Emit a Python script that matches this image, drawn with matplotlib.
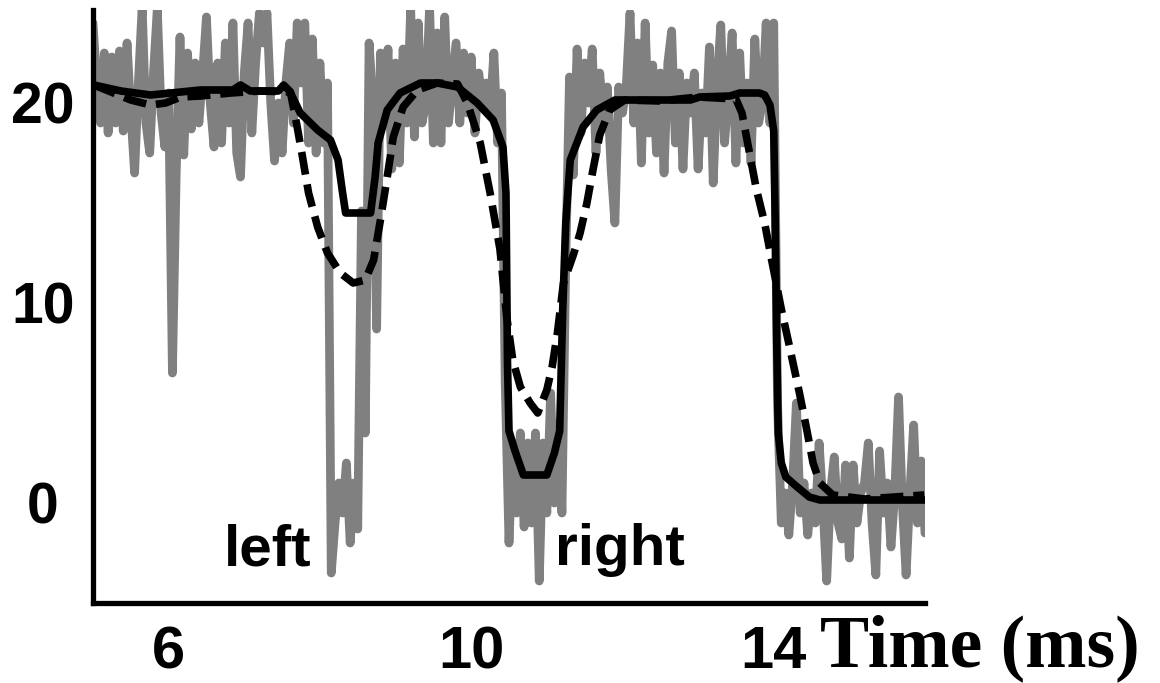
"""Recorded trace with two fitted estimates over time (left / right events)."""

import matplotlib

matplotlib.use("Agg")
import matplotlib.pyplot as plt
import numpy as np

# raw recording, sampled every 0.05 ms starting at 5.0 ms
RAW_T0, RAW_DT = 5.0, 0.05
raw_trace = [
    24.0, 21.0, 19.0, 22.5, 18.5, 22.3, 19.0, 22.6, 18.6, 23.0,
    19.5, 16.5, 21.0, 24.8, 19.0, 17.5, 21.5, 24.7, 19.5, 17.8,
    20.5, 6.5, 16.5, 23.3, 17.4, 22.5, 18.7, 22.0, 19.0, 21.5,
    24.3, 20.0, 17.8, 22.0, 18.0, 23.0, 19.0, 24.0, 17.5, 16.3,
    21.5, 24.0, 18.5, 22.0, 24.5, 23.0, 24.5, 20.0, 17.1, 20.0,
    17.5, 21.0, 23.0, 19.0, 24.0, 21.0, 24.0, 18.0, 23.2, 17.5,
    22.0, 18.0, 21.0, -3.5, -1.0, 1.0, -0.5, 2.0, -2.0, 1.0,
    -1.3, 14.6, 3.5, 23.0, 20.0, 8.7, 22.5, 19.0, 22.7, 16.7,
    22.0, 17.0, 22.7, 19.0, 24.7, 18.3, 24.0, 19.0, 20.0, 24.8,
    18.0, 23.5, 18.0, 24.3, 19.0, 21.0, 23.0, 19.0, 22.5, 19.5,
    22.3, 18.5, 21.5, 20.0, 21.0, 19.5, 22.5, 18.0, 20.5, 6.0,
    -2.0, 3.0, -0.5, 3.5, -1.2, 3.0, -1.0, 3.5, -3.9, 3.0,
    -0.5, 5.5, 0.0, 4.0, -0.5, 12.0, 21.3, 16.4, 22.7, 18.5,
    22.0, 20.0, 22.7, 17.5, 21.5, 19.0, 20.8, 16.7, 14.0, 20.8,
    19.5, 20.8, 24.5, 19.0, 23.0, 17.0, 24.0, 18.5, 21.9, 17.5,
    21.5, 16.5, 22.0, 23.6, 18.0, 21.5, 16.7, 21.0, 19.5, 21.5,
    16.7, 20.5, 18.5, 22.8, 16.0, 21.0, 23.9, 18.0, 20.5, 23.5,
    17.0, 22.5, 18.0, 21.0, 17.0, 23.2, 19.0, 20.0, 24.0, 19.0,
    24.0, 5.0, -1.0, 0.5, -1.6, 1.0, 5.0, -0.5, 1.0, -1.6,
    0.5, -1.0, 3.0, 0.0, -3.9, 0.5, 2.3, -1.0, -1.8, 1.9,
    -2.75, 1.9, -1.0, 0.5, 1.0, 3.0, -1.0, -3.6, 2.6, -0.5,
    1.0, -2.2, 0.5, 5.3, 0.0, -3.6, 0.5, 3.9, -1.0, 2.1,
    -1.5,
]

# first estimate (solid)
fit_t = [
    5.01, 5.37, 5.76, 6.03, 6.42, 6.85, 6.95, 7.08, 7.45, 7.52,
    7.60, 7.74, 7.97, 8.14, 8.24, 8.30, 8.34, 8.67, 8.73, 8.77,
    8.89, 9.06, 9.33, 9.55, 9.82, 10.08, 10.29, 10.42, 10.46, 10.48,
    10.50, 10.58, 10.69, 11.00, 11.10, 11.17, 11.21, 11.25, 11.31, 11.48,
    11.66, 11.90, 12.23, 12.90, 13.02, 13.42, 13.55, 13.81, 13.88, 13.95,
    14.00, 14.02, 14.04, 14.06, 14.10, 14.16, 14.28, 14.47, 14.61, 15.99,
]
fit_v = [
    20.9, 20.6, 20.4, 20.5, 20.65, 20.65, 20.9, 20.6, 20.6, 20.9,
    20.6, 19.5, 18.65, 18.15, 17.15, 15.5, 14.5, 14.5, 16.3, 18.0,
    19.65, 20.5, 21.0, 21.0, 20.8, 20.0, 19.15, 17.8, 15.5, 7.0,
    3.6, 2.6, 1.4, 1.4, 2.5, 3.6, 9.65, 14.0, 17.15, 18.8,
    19.65, 20.15, 20.15, 20.15, 20.3, 20.35, 20.5, 20.5, 20.4, 19.9,
    18.6, 14.0, 8.0, 3.5, 2.0, 1.3, 0.9, 0.3, 0.15, 0.15,
]

# second estimate (dashed)
smooth_t = [
    5.01, 5.24, 5.50, 5.76, 5.96, 6.16, 6.42, 6.82, 7.21, 7.61,
    7.70, 7.77, 7.85, 7.97, 8.10, 8.27, 8.44, 8.60, 8.71, 8.80,
    8.89, 8.97, 9.10, 9.29, 9.55, 9.82, 9.95, 10.12, 10.25, 10.38,
    10.47, 10.55, 10.65, 10.78, 10.88, 11.00, 11.07, 11.14, 11.22, 11.35,
    11.44, 11.53, 11.61, 11.70, 11.83, 12.03, 12.50, 13.00, 13.50, 13.58,
    13.68, 13.77, 13.88, 13.97, 14.10, 14.21, 14.34, 14.44, 14.52, 14.61,
    14.78, 15.20, 15.60, 15.99,
]
smooth_v = [
    20.9, 20.55, 20.15, 19.9, 20.0, 20.3, 20.35, 20.5, 20.6, 20.55,
    18.8, 17.3, 15.5, 13.8, 12.5, 11.5, 11.0, 11.15, 12.15, 14.15,
    16.3, 18.3, 19.8, 20.65, 21.0, 20.95, 20.0, 18.0, 15.5, 12.7,
    9.3, 7.15, 5.8, 5.0, 4.5, 5.65, 6.8, 8.5, 11.0, 12.4,
    13.5, 15.0, 16.65, 18.4, 19.65, 20.15, 20.1, 20.3, 20.2, 19.5,
    17.5, 15.7, 14.0, 12.2, 9.7, 7.8, 5.5, 3.6, 2.0, 1.0,
    0.4, 0.2, 0.3, 0.4,
]

x_ticks = [6, 10, 14]
y_ticks = [0, 10, 20]
events = [("left", 7.31), ("right", 11.97)]


def main():
    fig = plt.figure(figsize=(11.6, 6.83), dpi=100)
    ax = fig.add_axes([93 / 1160, 80 / 683, 832 / 1160, 593 / 683])

    raw_t = RAW_T0 + RAW_DT * np.arange(len(raw_trace))
    ax.plot(raw_t, raw_trace, color="#808080", lw=6.3,
            solid_capstyle="round", solid_joinstyle="round", zorder=1)
    ax.plot(fit_t, fit_v, color="black", lw=5.5,
            solid_capstyle="round", solid_joinstyle="round", zorder=2)
    ax.plot(smooth_t, smooth_v, color="black", lw=5.5, dashes=(3.0, 1.3),
            dash_capstyle="butt", zorder=3)

    ax.set_xlim(5, 16)
    ax.set_ylim(-5, 24.65)

    for side in ("top", "right"):
        ax.spines[side].set_visible(False)
    for side in ("left", "bottom"):
        ax.spines[side].set_linewidth(3.8)

    ax.set_yticks(y_ticks)
    ax.set_yticklabels([str(v) for v in y_ticks], fontsize=41,
                       fontweight="bold", family="Liberation Sans")
    for lab in ax.get_yticklabels():
        lab.set_horizontalalignment("center")
    ax.tick_params(axis="y", length=0, pad=36)

    ax.set_xticks(x_ticks)
    ax.set_xticklabels([str(v) for v in x_ticks], fontsize=43,
                       fontweight="bold", family="Liberation Sans")
    ax.tick_params(axis="x", length=0, pad=16)

    for label, t in events:
        ax.text(t, -3.1, label, fontsize=42, fontweight="bold",
                family="Liberation Sans", ha="center", va="baseline",
                zorder=4)

    fig.text(820 / 1160, 1 - 666 / 683, "Time (ms)", fontsize=53,
             fontweight="bold", family="Liberation Serif",
             ha="left", va="baseline")

    fig.savefig("out.png", dpi=100, facecolor="white")


if __name__ == "__main__":
    main()
